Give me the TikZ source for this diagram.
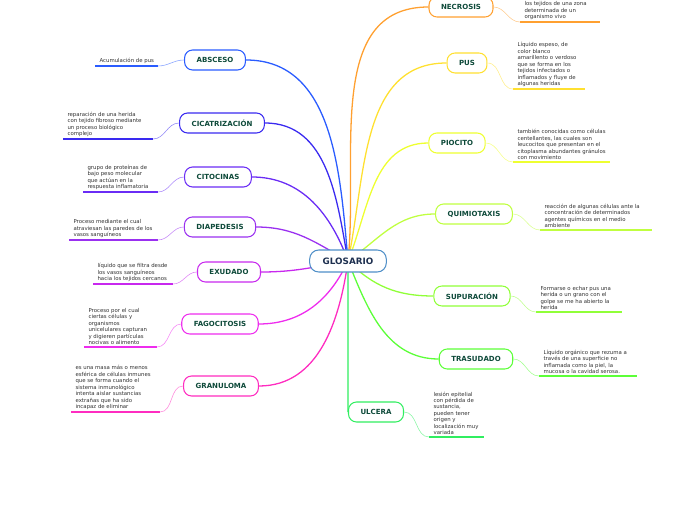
\documentclass[tikz,border=0pt]{standalone}
\usepackage{fontspec}
\setmainfont{DejaVu Sans}
\usetikzlibrary{positioning,backgrounds}

\definecolor{hubline}{HTML}{4F8FC8}
\definecolor{hubtext}{HTML}{1D2F4F}
\definecolor{labeltext}{HTML}{0E4A3A}
\definecolor{leaftext}{HTML}{333333}
\definecolor{cAbs}{HTML}{2A5CFF}
\definecolor{cCic}{HTML}{3A2AF0}
\definecolor{cCit}{HTML}{6A2CF5}
\definecolor{cDia}{HTML}{9A30F0}
\definecolor{cExu}{HTML}{C828EE}
\definecolor{cFag}{HTML}{EE2CEE}
\definecolor{cGra}{HTML}{FF2CC0}
\definecolor{cNec}{HTML}{FFA030}
\definecolor{cPus}{HTML}{FFE030}
\definecolor{cPio}{HTML}{EEFF30}
\definecolor{cQui}{HTML}{C0FF40}
\definecolor{cSup}{HTML}{90FF38}
\definecolor{cTra}{HTML}{5CFF38}
\definecolor{cUlc}{HTML}{30EE60}

\tikzset{
  topic/.style={draw=#1, line width=0.9pt, rounded corners=2.4mm, fill=white,
    text=labeltext, font=\fontsize{6}{7}\selectfont\bfseries,
    minimum height=6mm, inner xsep=3.6mm, inner ysep=0pt},
  leaf/.style={anchor=south west, align=left, text=leaftext,
    font=\fontsize{4.6}{5.5}\selectfont, inner xsep=1.3mm, inner ysep=0.6mm},
  uline/.style={draw=#1, line width=1.5pt},
  twig/.style={draw=#1!55, line width=0.5pt},
  branch/.style={draw=#1, line width=1.1pt}
}

\begin{document}
\begin{tikzpicture}[x=0.3mm,y=-0.3mm]
  \useasboundingbox (0,0) rectangle (696,520);
  \clip (0,0) rectangle (696,520);

  \node[draw=hubline, line width=0.9pt, rounded corners=2.7mm, fill=white,
    text=hubtext, font=\fontsize{7.5}{9}\selectfont\bfseries,
    minimum height=6.6mm, inner xsep=3.9mm] (hub) at (348,261) {GLOSARIO};

  \node[topic=cAbs] (absceso) at (215,60) {ABSCESO};
  \node[topic=cCic] (cicatrizacion) at (222,123) {CICATRIZACIÓN};
  \node[topic=cCit] (citocinas) at (218,177) {CITOCINAS};
  \node[topic=cDia] (diapedesis) at (220,227) {DIAPEDESIS};
  \node[topic=cExu] (exudado) at (229,272) {EXUDADO};
  \node[topic=cFag] (fagocitosis) at (220,324) {FAGOCITOSIS};
  \node[topic=cGra] (granuloma) at (221,386) {GRANULOMA};
  \node[topic=cNec] (necrosis) at (461,7) {NECROSIS};
  \node[topic=cPus] (pus) at (467,63) {PUS};
  \node[topic=cPio] (piocito) at (457,143) {PIOCITO};
  \node[topic=cQui] (quimiotaxis) at (474,214) {QUIMIOTAXIS};
  \node[topic=cSup] (supuracion) at (472,296) {SUPURACIÓN};
  \node[topic=cTra] (trasudado) at (476,359) {TRASUDADO};
  \node[topic=cUlc] (ulcera) at (376,412) {ULCERA};

  \begin{pgfonlayer}{background}
    \foreach \n/\c/\a in {absceso/cAbs/95, cicatrizacion/cCic/100,
        citocinas/cCit/110, diapedesis/cDia/150, exudado/cExu/190,
        fagocitosis/cFag/245, granuloma/cGra/262} {
      \draw[branch=\c] (hub.center) to[out=\a,in=0] (\n.east);
    }
    \foreach \n/\c/\a in {necrosis/cNec/84, pus/cPus/78, piocito/cPio/68,
        quimiotaxis/cQui/35, supuracion/cSup/-45, trasudado/cTra/-68} {
      \draw[branch=\c] (hub.center) to[out=\a,in=180] (\n.west);
    }
    \draw[branch=cUlc] (hub.center) -- (ulcera.west);
  \end{pgfonlayer}

  % left side
  \node[leaf] (l-abs) at (95,66) {Acumulación de pus};
  \draw[uline=cAbs] (l-abs.south west) -- ++(63,0) coordinate (u-abs);
  \draw[twig=cAbs] (absceso.west) to[out=180,in=0] (u-abs);

  \node[leaf] (l-cic) at (63,139) {reparación de una herida\\con tejido fibroso mediante\\un proceso biológico\\complejo};
  \draw[uline=cCic] (l-cic.south west) -- ++(90,0) coordinate (u-cic);
  \draw[twig=cCic] (cicatrizacion.west) to[out=180,in=0] (u-cic);

  \node[leaf] (l-cit) at (83,192) {grupo de proteínas de\\bajo peso molecular\\que actúan en la\\respuesta inflamatoria};
  \draw[uline=cCit] (l-cit.south west) -- ++(75,0) coordinate (u-cit);
  \draw[twig=cCit] (citocinas.west) to[out=180,in=0] (u-cit);

  \node[leaf] (l-dia) at (69,240) {Proceso mediante el cual\\atraviesan las paredes de los\\vasos sanguíneos};
  \draw[uline=cDia] (l-dia.south west) -- ++(89,0) coordinate (u-dia);
  \draw[twig=cDia] (diapedesis.west) to[out=180,in=0] (u-dia);

  \node[leaf] (l-exu) at (93,284) {líquido que se filtra desde\\los vasos sanguíneos\\hacia los tejidos cercanos};
  \draw[uline=cExu] (l-exu.south west) -- ++(80,0) coordinate (u-exu);
  \draw[twig=cExu] (exudado.west) to[out=180,in=0] (u-exu);

  \node[leaf] (l-fag) at (84,347) {Proceso por el cual\\ciertas células y\\organismos\\unicelulares capturan\\y digieren partículas\\nocivas o alimento};
  \draw[uline=cFag] (l-fag.south west) -- ++(73,0) coordinate (u-fag);
  \draw[twig=cFag] (fagocitosis.west) to[out=180,in=0] (u-fag);

  \node[leaf] (l-gra) at (71,412) {es una masa más o menos\\esférica de células inmunes\\que se forma cuando el\\sistema inmunológico\\intenta aislar sustancias\\extrañas que ha sido\\incapaz de eliminar};
  \draw[uline=cGra] (l-gra.south west) -- ++(89,0) coordinate (u-gra);
  \draw[twig=cGra] (granuloma.west) to[out=180,in=0] (u-gra);

  % right side
  \node[leaf] (l-nec) at (520,22) {los tejidos de una zona\\determinada de un\\organismo vivo};
  \draw[uline=cNec] (l-nec.south west) -- ++(80,0);
  \draw[twig=cNec] (necrosis.east) to[out=0,in=180] (l-nec.south west);

  \node[leaf] (l-pus) at (513,89) {Líquido espeso, de\\color blanco\\amarillento o verdoso\\que se forma en los\\tejidos infectados o\\inflamados y fluye de\\algunas heridas};
  \draw[uline=cPus] (l-pus.south west) -- ++(72,0);
  \draw[twig=cPus] (pus.east) to[out=0,in=180] (l-pus.south west);

  \node[leaf] (l-pio) at (513,162) {también conocidas como células\\centellantes, las cuales son\\leucocitos que presentan en el\\citoplasma abundantes gránulos\\con movimiento};
  \draw[uline=cPio] (l-pio.south west) -- ++(97,0);
  \draw[twig=cPio] (piocito.east) to[out=0,in=180] (l-pio.south west);

  \node[leaf] (l-qui) at (540,230) {reacción de algunas células ante la\\concentración de determinados\\agentes químicos en el medio\\ambiente};
  \draw[uline=cQui] (l-qui.south west) -- ++(112,0);
  \draw[twig=cQui] (quimiotaxis.east) to[out=0,in=180] (l-qui.south west);

  \node[leaf] (l-sup) at (536,312) {Formarse o echar pus una\\herida o un grano con el\\golpe se me ha abierto la\\herida};
  \draw[uline=cSup] (l-sup.south west) -- ++(86,0);
  \draw[twig=cSup] (supuracion.east) to[out=0,in=180] (l-sup.south west);

  \node[leaf] (l-tra) at (539,376) {Líquido orgánico que rezuma a\\través de una superficie no\\inflamada como la piel, la\\mucosa o la cavidad serosa.};
  \draw[uline=cTra] (l-tra.south west) -- ++(98,0);
  \draw[twig=cTra] (trasudado.east) to[out=0,in=180] (l-tra.south west);

  \node[leaf] (l-ulc) at (429,437) {lesión epitelial\\con pérdida de\\sustancia,\\pueden tener\\origen y\\localización muy\\variada};
  \draw[uline=cUlc] (l-ulc.south west) -- ++(55,0);
  \draw[twig=cUlc] (ulcera.east) to[out=0,in=180] (l-ulc.south west);
\end{tikzpicture}
\end{document}
